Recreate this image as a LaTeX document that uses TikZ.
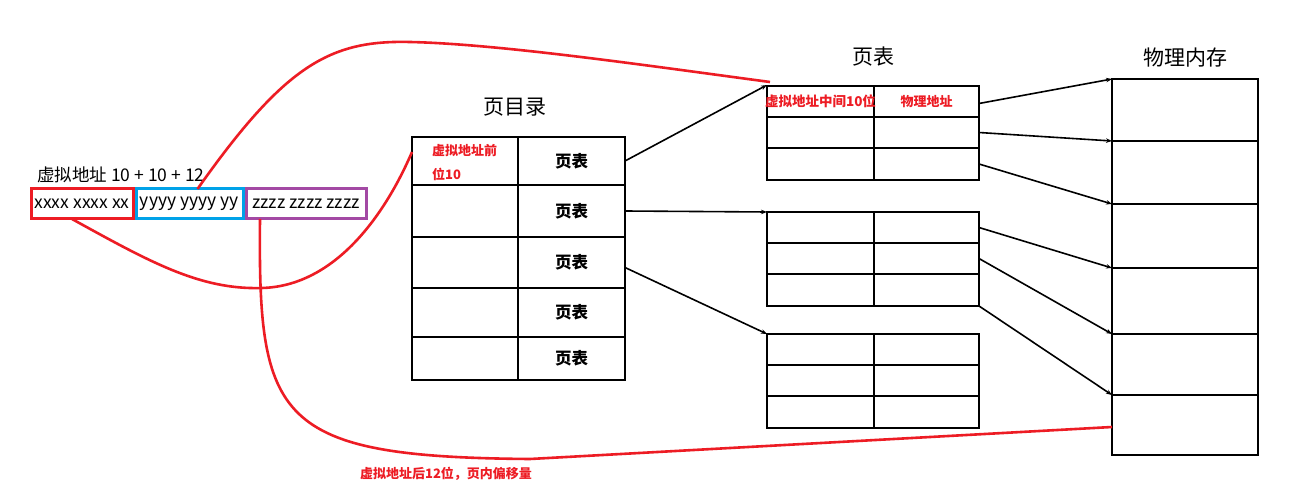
\documentclass[tikz,border=0pt]{standalone}
\usepackage{fontspec}
\setmainfont{Noto Sans CJK SC}
\usetikzlibrary{arrows.meta}
\definecolor{pred}{RGB}{237,28,36}
\definecolor{pblue}{RGB}{0,162,232}
\definecolor{ppurple}{RGB}{163,73,164}
\begin{document}
\begin{tikzpicture}[x=1pt,y=-1pt,
  cell/.style={draw, line width=2.3pt, anchor=north west, inner sep=0pt, outer sep=0pt},
  title/.style={font=\fontsize{21}{21}\selectfont},
  plain/.style={font=\fontsize{17.5}{17.5}\selectfont},
  bitbox/.style={draw, line width=3pt, minimum height=30pt, inner sep=0pt, outer sep=0pt, font=\fontsize{17.5}{17.5}\selectfont},
  pt/.style={font=\fontsize{16.5}{16.5}\selectfont\bfseries},
  lbl/.style={text=pred, font=\fontsize{13}{13}\selectfont\bfseries, inner sep=0pt},
  arr/.style={-{Stealth[length=6pt,width=4.5pt]}, line width=1.6pt},
  redcurve/.style={draw=pred, line width=2.6pt}]
\useasboundingbox (0,0) rectangle (1304,486);
\fill[white] (0,0) rectangle (1304,486);

% virtual address
\node[plain, anchor=west, inner sep=0pt] (va) at (37,175) {虚拟地址 10 + 10 + 12};
\node[bitbox, draw=pred, minimum width=102pt] (rb) at (82,204) {xxxx xxxx xx};
\node[bitbox, draw=pblue, minimum width=107pt] (bb) at (189.5,204) {yyyy yyyy yy};
\node[bitbox, draw=ppurple, minimum width=120pt] (pb) at (306,204) {zzzz zzzz zzzz};

% page directory
\node[title] (tdir) at (515,107) {页目录};
\node[cell, minimum width=106pt, minimum height=48pt] (d1l) at (412,137) {};
\node[cell, minimum width=107pt, minimum height=48pt, pt] (d1r) at (518,137) {页表};
\node[cell, minimum width=106pt, minimum height=52pt] (d2l) at (412,185) {};
\node[cell, minimum width=107pt, minimum height=52pt, pt] (d2r) at (518,185) {页表};
\node[cell, minimum width=106pt, minimum height=51pt] (d3l) at (412,237) {};
\node[cell, minimum width=107pt, minimum height=51pt, pt] (d3r) at (518,237) {页表};
\node[cell, minimum width=106pt, minimum height=49pt] (d4l) at (412,288) {};
\node[cell, minimum width=107pt, minimum height=49pt, pt] (d4r) at (518,288) {页表};
\node[cell, minimum width=106pt, minimum height=43pt] (d5l) at (412,337) {};
\node[cell, minimum width=107pt, minimum height=43pt, pt] (d5r) at (518,337) {页表};
\node[lbl, anchor=west] (dl1) at (432,151) {虚拟地址前};
\node[lbl, anchor=west] (dl2) at (432,174) {位10};

% page tables
\node[title] (tpt) at (873,57) {页表};
\foreach \n/\y in {t1/86,t2/212,t3/334}{
  \node[cell, minimum width=107pt, minimum height=31pt] (\n a) at (767,\y) {};
  \node[cell, minimum width=105pt, minimum height=31pt] (\n b) at (874,\y) {};
  \node[cell, minimum width=107pt, minimum height=31pt] (\n c) at (767,\y+31) {};
  \node[cell, minimum width=105pt, minimum height=31pt] (\n d) at (874,\y+31) {};
  \node[cell, minimum width=107pt, minimum height=32pt] (\n e) at (767,\y+62) {};
  \node[cell, minimum width=105pt, minimum height=32pt] (\n f) at (874,\y+62) {};
}
\node[lbl, font=\fontsize{13.5}{13.5}\selectfont\bfseries] (h1) at (t1a.center) {虚拟地址中间10位};
\node[lbl] (h2) at (t1b.center) {物理地址};

% physical memory
\node[title] (tmem) at (1185,58) {物理内存};
\node[cell, minimum width=146pt, minimum height=62pt] (m1) at (1112,79) {};
\node[cell, minimum width=146pt, minimum height=63pt] (m2) at (1112,141) {};
\node[cell, minimum width=146pt, minimum height=64pt] (m3) at (1112,204) {};
\node[cell, minimum width=146pt, minimum height=66pt] (m4) at (1112,268) {};
\node[cell, minimum width=146pt, minimum height=61pt] (m5) at (1112,334) {};
\node[cell, minimum width=146pt, minimum height=60pt] (m6) at (1112,395) {};

% directory -> tables
\draw[arr] (d1r.east) -- ([yshift=1pt]t1a.north west);
\draw[arr] (d2r.east) -- (t2a.north west);
\draw[arr] ([yshift=-5pt]d3r.east) -- (t3a.north west);

% tables -> memory
\draw[arr] ([yshift=-2pt]t1b.east) -- (m1.north west);
\draw[arr] (t1d.east) -- (m2.north west);
\draw[arr] (t1f.east) -- (m3.north west);
\draw[arr] (t2b.east) -- (m4.north west);
\draw[arr] (t2d.east) -- (m5.north west);
\draw[arr] (t2f.south east) -- (m6.north west);

% red curves
\coordinate (c1s) at ([xshift=-10pt]rb.south);
\coordinate (c1e) at ([yshift=9pt]d1l.west);
\draw[redcurve] (c1s) .. controls (150,262) and (200,290) .. (262,288)
                      .. controls (335,286) and (385,215) .. (c1e);
\coordinate (c2s) at ([xshift=8pt]bb.north);
\coordinate (c2e) at ([xshift=3pt,yshift=4pt]t1a.north west);
\draw[redcurve] (c2s) .. controls (285,65) and (330,40) .. (410,42)
                      .. controls (500,44) and (650,66) .. (c2e);
\coordinate (c3s) at ([xshift=-46pt]pb.south);
\coordinate (c3e) at ([yshift=-2pt]m6.west);
\draw[redcurve] (c3s) .. controls (258,420) and (275,457) .. (530,459) -- (c3e);
\node[lbl] (bottom) at (446,474) {虚拟地址后12位，页内偏移量};
\end{tikzpicture}
\end{document}
